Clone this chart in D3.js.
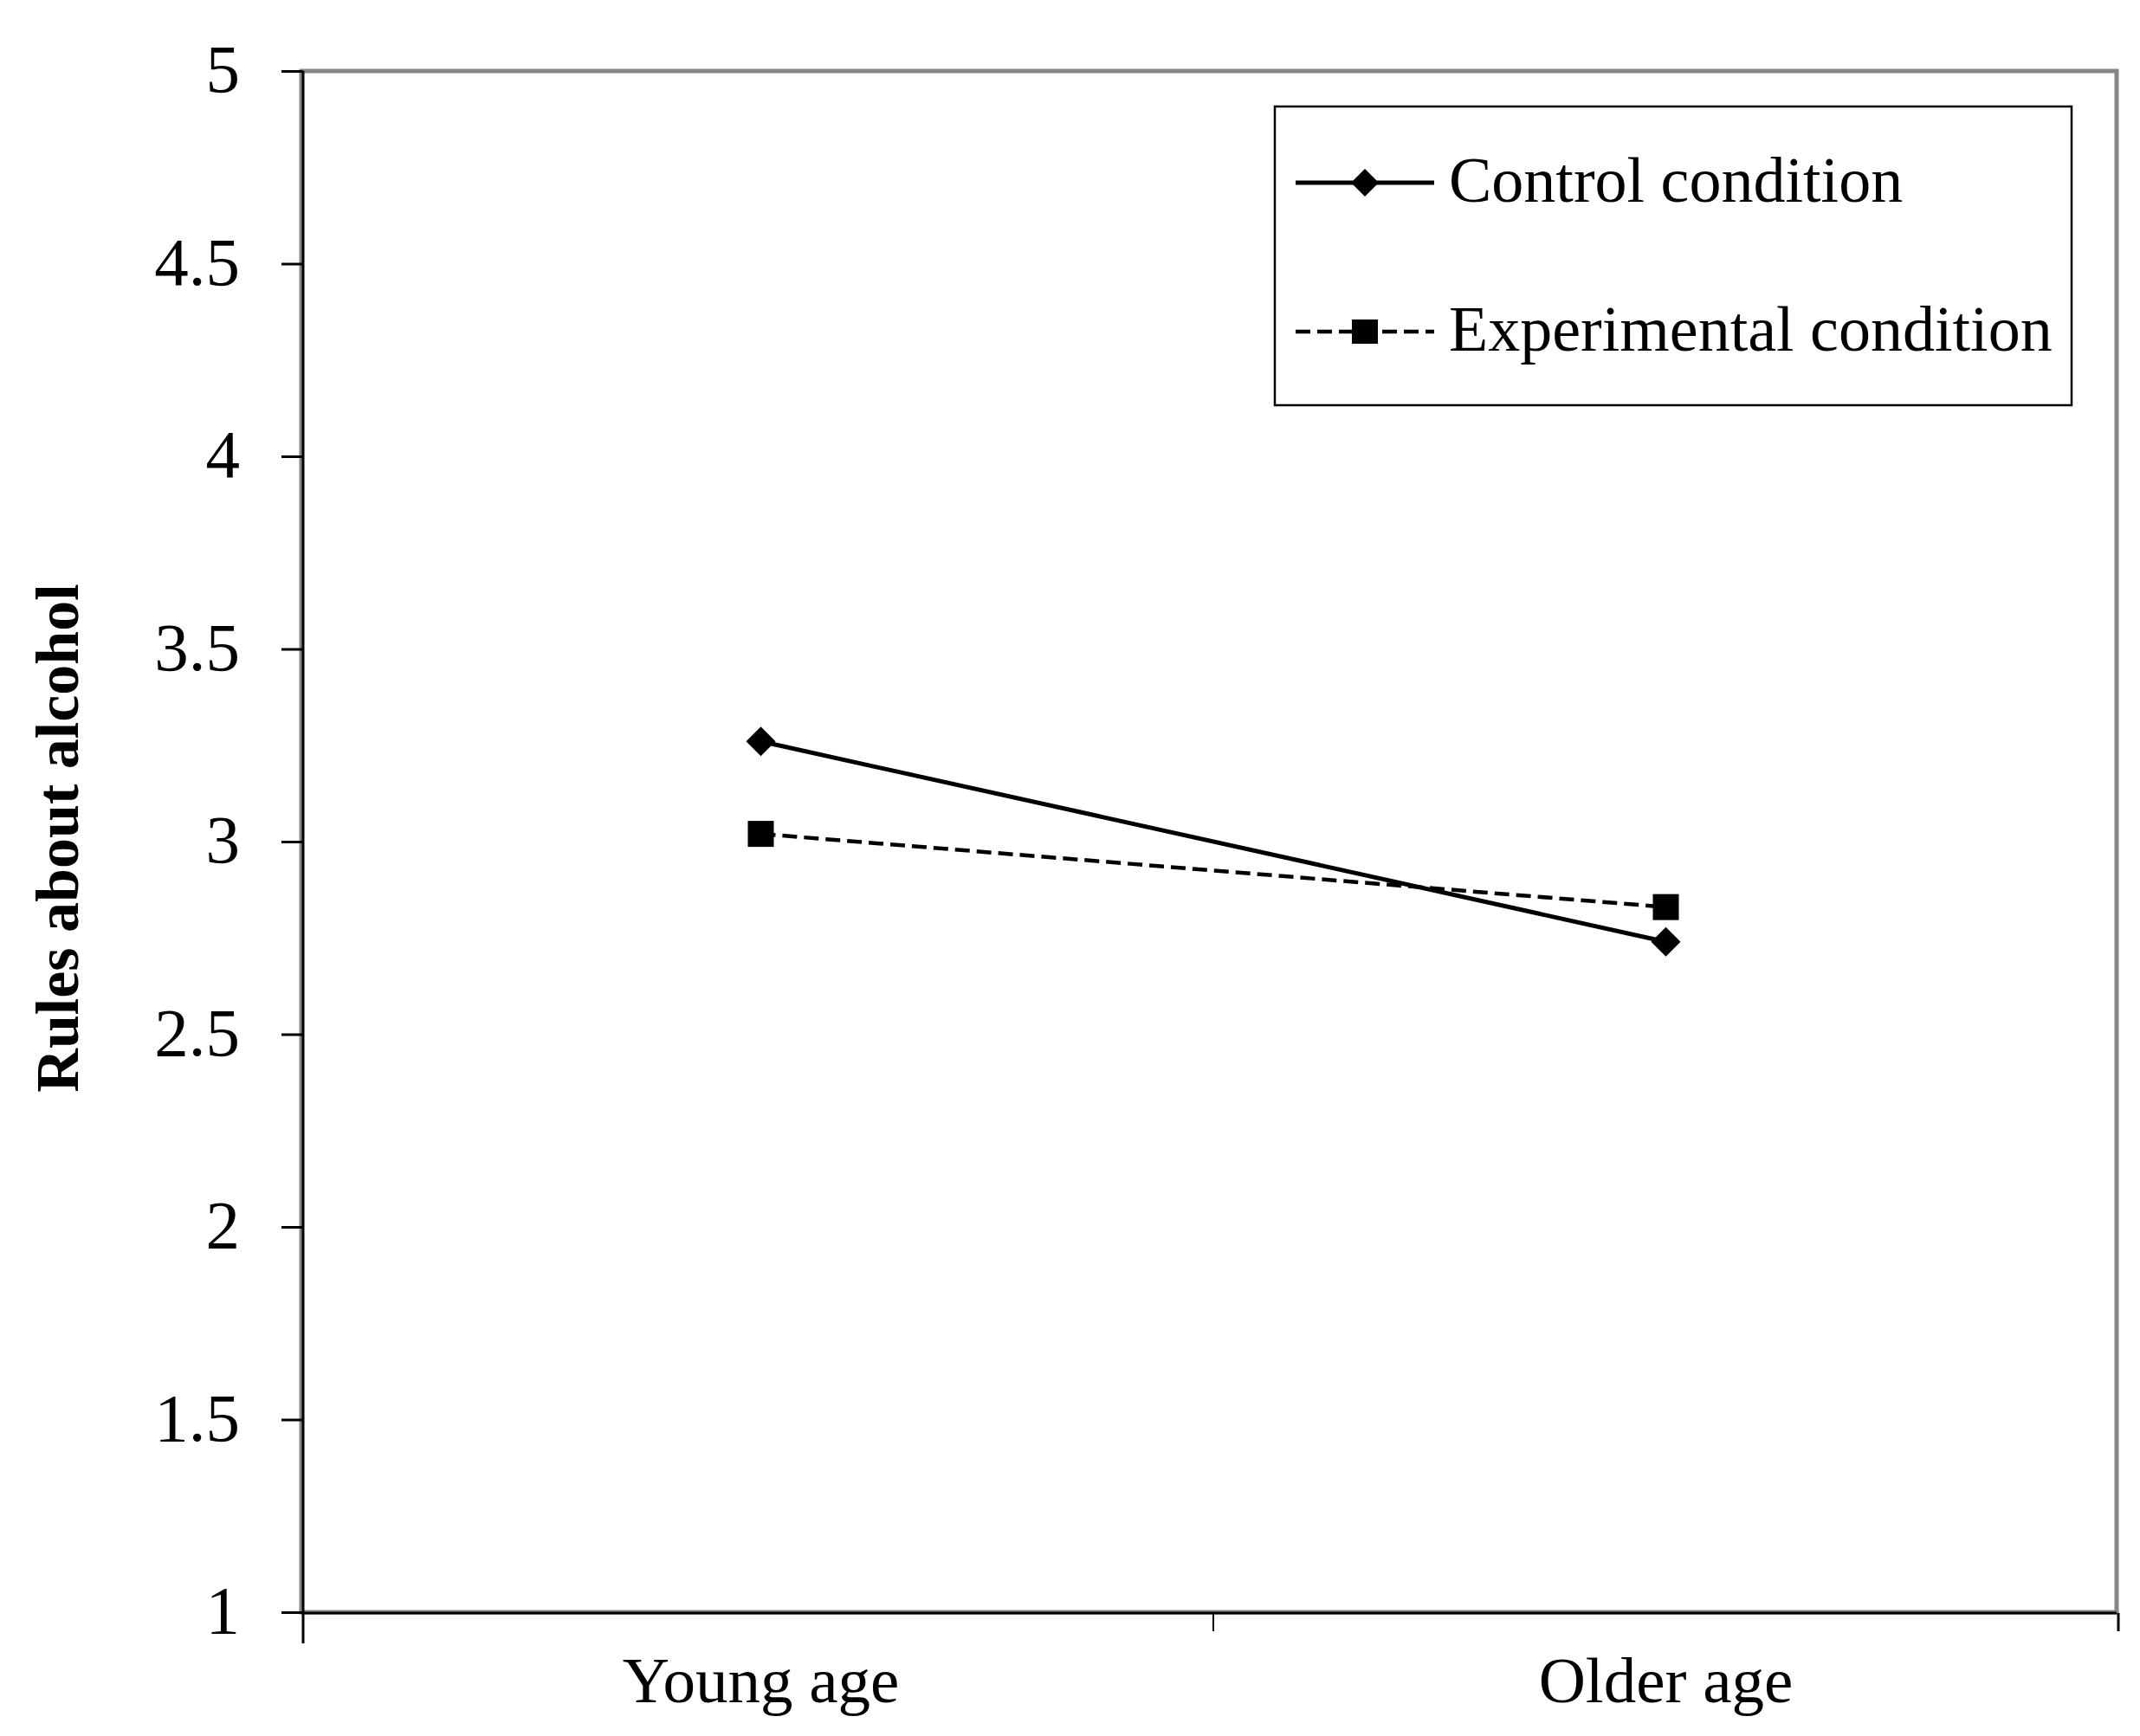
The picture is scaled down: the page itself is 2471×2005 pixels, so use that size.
<!DOCTYPE html>
<html>
<head>
<meta charset="utf-8">
<script src="https://cdn.jsdelivr.net/npm/d3@7"></script>
<style>
  html, body { margin: 0; padding: 0; background: #fff; }
  svg { display: block; }
  text { font-family: "Liberation Serif", "Times New Roman", serif; fill: #000; }
</style>
</head>
<body>
<div id="chart"></div>
<script>
// data
const categories = ["Young age", "Older age"];
const controlValues = [3.26, 2.74];
const experimentalValues = [3.02, 2.83];
const yTicks = [1, 1.5, 2, 2.5, 3, 3.5, 4, 4.5, 5];
const yTickLabels = ["1", "1.5", "2", "2.5", "3", "3.5", "4", "4.5", "5"];
const seriesNames = ["Control condition", "Experimental condition"];

const width = 2471;
const height = 2005;
const plot = { left: 348, right: 2444, top: 82, bottom: 1862 };

const svg = d3.select("#chart")
  .append("svg")
  .attr("width", width)
  .attr("height", height);

const x = d3.scaleBand()
  .domain(categories)
  .range([plot.left + 8, plot.right + 2]);

const y = d3.scaleLinear()
  .domain([1, 5])
  .range([plot.bottom, plot.top]);

// plot area border (grey)
svg.append("rect")
  .attr("x", plot.left)
  .attr("y", plot.top)
  .attr("width", plot.right - plot.left)
  .attr("height", plot.bottom - plot.top)
  .attr("fill", "none")
  .attr("stroke", "#868686")
  .attr("stroke-width", 5);

// y axis
const yAxis = svg.append("g")
  .attr("transform", `translate(${plot.left + 2},0)`)
  .call(d3.axisLeft(y)
    .tickValues(yTicks)
    .tickFormat((d, i) => yTickLabels[i])
    .tickSize(25)
    .tickPadding(48));

yAxis.select(".domain")
  .attr("stroke", "#000")
  .attr("stroke-width", 3)
  .attr("d", `M0,${plot.top}V${plot.bottom + 36}`);

yAxis.selectAll(".tick line")
  .attr("stroke", "#000")
  .attr("stroke-width", 3);

yAxis.selectAll(".tick text")
  .attr("font-family", "Liberation Serif")
  .attr("font-size", 79)
  .attr("dy", "0.3em");

// x axis: labels at category centres, ticks at category boundaries
const xAxis = svg.append("g")
  .attr("transform", `translate(0,${plot.bottom + 1})`)
  .call(d3.axisBottom(x).tickSize(0).tickPadding(0));

xAxis.select(".domain")
  .attr("stroke", "#000")
  .attr("stroke-width", 3)
  .attr("d", `M${plot.left},0H${plot.right}`);

xAxis.selectAll(".tick text")
  .attr("font-family", "Liberation Serif")
  .attr("font-size", 75)
  .attr("dy", null)
  .attr("y", 103);

const boundaries = categories.map(c => x(c) + x.bandwidth());
xAxis.selectAll(".bound")
  .data(boundaries)
  .enter()
  .append("line")
  .attr("class", "bound")
  .attr("x1", d => d)
  .attr("x2", d => d)
  .attr("y1", 0)
  .attr("y2", 21)
  .attr("stroke", "#000")
  .attr("stroke-width", (d, i) => i === boundaries.length - 1 ? 3 : 2);

// axis title
svg.append("text")
  .attr("transform", `translate(90,${(plot.top + plot.bottom) / 2 - 4}) rotate(-90)`)
  .attr("text-anchor", "middle")
  .attr("font-weight", "bold")
  .attr("font-size", 70)
  .text("Rules about alcohol");

// lines
const cx = c => x(c) + x.bandwidth() / 2;
const line = d3.line()
  .x((d, i) => cx(categories[i]))
  .y(d => y(d));

svg.append("path")
  .datum(controlValues)
  .attr("d", line)
  .attr("fill", "none")
  .attr("stroke", "#000")
  .attr("stroke-width", 5);

svg.append("path")
  .datum(experimentalValues)
  .attr("d", line)
  .attr("fill", "none")
  .attr("stroke", "#000")
  .attr("stroke-width", 4.5)
  .attr("stroke-dasharray", "17,8");

// markers
const diamond = (px, py, r) => `M${px},${py - r}L${px + r},${py}L${px},${py + r}L${px - r},${py}Z`;

svg.selectAll(".ctrl-pt")
  .data(controlValues)
  .enter()
  .append("path")
  .attr("class", "ctrl-pt")
  .attr("d", (d, i) => diamond(cx(categories[i]), y(d), 17))
  .attr("fill", "#000");

svg.selectAll(".exp-pt")
  .data(experimentalValues)
  .enter()
  .append("rect")
  .attr("class", "exp-pt")
  .attr("x", (d, i) => cx(categories[i]) - 15)
  .attr("y", d => y(d) - 15)
  .attr("width", 30)
  .attr("height", 30)
  .attr("fill", "#000");

// legend
const legend = svg.append("g");
legend.append("rect")
  .attr("x", 1472)
  .attr("y", 123)
  .attr("width", 920)
  .attr("height", 345)
  .attr("fill", "#fff")
  .attr("stroke", "#000")
  .attr("stroke-width", 2.5);

const rows = [211, 383];
seriesNames.forEach((name, i) => {
  const ly = rows[i];
  legend.append("line")
    .attr("x1", 1496)
    .attr("x2", 1656)
    .attr("y1", ly)
    .attr("y2", ly)
    .attr("stroke", "#000")
    .attr("stroke-width", i === 0 ? 5 : 4.5)
    .attr("stroke-dasharray", i === 0 ? null : "17,8");

  if (i === 0) {
    legend.append("path")
      .attr("d", diamond(1576, ly, 16))
      .attr("fill", "#000");
  } else {
    legend.append("rect")
      .attr("x", 1561)
      .attr("y", ly - 14)
      .attr("width", 30)
      .attr("height", 28)
      .attr("fill", "#000");
  }

  legend.append("text")
    .attr("x", 1673)
    .attr("y", ly + 22)
    .attr("font-size", 74)
    .text(name);
});
</script>
</body>
</html>
